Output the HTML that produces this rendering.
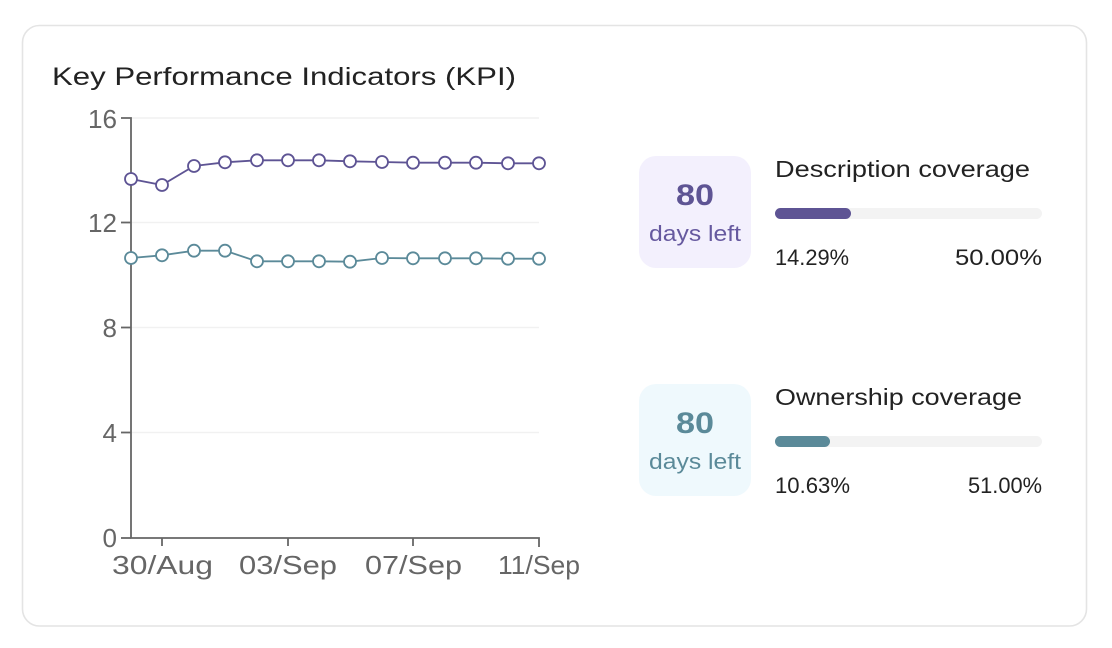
<!DOCTYPE html>
<html><head><meta charset="utf-8"><style>
html,body{margin:0;padding:0;background:#fff;}
svg{display:block;}
text{font-family:"Liberation Sans",sans-serif;}
</style></head><body>
<svg width="1112" height="648" viewBox="0 0 1112 648" xmlns="http://www.w3.org/2000/svg">
<rect x="0" y="0" width="1112" height="648" fill="#fff"/>
<rect x="22.5" y="25.5" width="1064" height="600.5" rx="17" ry="17" fill="#fff" stroke="#e4e4e4" stroke-width="1.6"/>
<text x="52" y="85" font-size="25" fill="#222" textLength="464" lengthAdjust="spacingAndGlyphs">Key Performance Indicators (KPI)</text>

<!-- grid -->
<g stroke="#f1f1f1" stroke-width="1.5">
<line x1="131" y1="118" x2="539" y2="118"/>
<line x1="131" y1="222.5" x2="539" y2="222.5"/>
<line x1="131" y1="327.5" x2="539" y2="327.5"/>
<line x1="131" y1="432.5" x2="539" y2="432.5"/>
</g>
<!-- axes -->
<g stroke="#666" stroke-width="1.8" fill="none">
<path d="M121 118 H131 V538 H539 V547"/>
<line x1="121" y1="222.5" x2="131" y2="222.5"/>
<line x1="121" y1="327.5" x2="131" y2="327.5"/>
<line x1="121" y1="432.5" x2="131" y2="432.5"/>
<line x1="121" y1="538" x2="131" y2="538"/>
<line x1="162" y1="538" x2="162" y2="546"/>
<line x1="288" y1="538" x2="288" y2="546"/>
<line x1="413" y1="538" x2="413" y2="546"/>
</g>
<g font-size="26" fill="#666" text-anchor="end">
<text x="117" y="128" textLength="29" lengthAdjust="spacingAndGlyphs">16</text>
<text x="117" y="232" textLength="29" lengthAdjust="spacingAndGlyphs">12</text>
<text x="117" y="337">8</text>
<text x="117" y="442">4</text>
<text x="117" y="547">0</text>
</g>
<g font-size="26" fill="#666">
<text x="112" y="574" textLength="101" lengthAdjust="spacingAndGlyphs">30/Aug</text>
<text x="239" y="574" textLength="98" lengthAdjust="spacingAndGlyphs">03/Sep</text>
<text x="365" y="574" textLength="97" lengthAdjust="spacingAndGlyphs">07/Sep</text>
<text x="498" y="574" textLength="82" lengthAdjust="spacingAndGlyphs">11/Sep</text>
</g>

<!-- purple series -->
<polyline fill="none" stroke="#5e5494" stroke-width="1.8" points="131,179 162,185 194,166 225,162.3 257,160.3 288,160.3 319,160.3 350,161.3 382,162 413,162.7 445,162.7 476,162.7 508,163.3 539,163.3"/>
<g fill="#fff" stroke="#5e5494" stroke-width="1.8">
<circle cx="131" cy="179" r="6"/><circle cx="162" cy="185" r="6"/><circle cx="194" cy="166" r="6"/><circle cx="225" cy="162.3" r="6"/><circle cx="257" cy="160.3" r="6"/><circle cx="288" cy="160.3" r="6"/><circle cx="319" cy="160.3" r="6"/><circle cx="350" cy="161.3" r="6"/><circle cx="382" cy="162" r="6"/><circle cx="413" cy="162.7" r="6"/><circle cx="445" cy="162.7" r="6"/><circle cx="476" cy="162.7" r="6"/><circle cx="508" cy="163.3" r="6"/><circle cx="539" cy="163.3" r="6"/>
</g>
<!-- teal series -->
<polyline fill="none" stroke="#5b8a99" stroke-width="1.8" points="131,258 162,255.3 194,250.7 225,250.7 257,261.3 288,261.3 319,261.3 350,261.7 382,258 413,258.3 445,258.3 476,258.3 508,258.7 539,258.7"/>
<g fill="#fff" stroke="#5b8a99" stroke-width="1.8">
<circle cx="131" cy="258" r="6"/><circle cx="162" cy="255.3" r="6"/><circle cx="194" cy="250.7" r="6"/><circle cx="225" cy="250.7" r="6"/><circle cx="257" cy="261.3" r="6"/><circle cx="288" cy="261.3" r="6"/><circle cx="319" cy="261.3" r="6"/><circle cx="350" cy="261.7" r="6"/><circle cx="382" cy="258" r="6"/><circle cx="413" cy="258.3" r="6"/><circle cx="445" cy="258.3" r="6"/><circle cx="476" cy="258.3" r="6"/><circle cx="508" cy="258.7" r="6"/><circle cx="539" cy="258.7" r="6"/>
</g>

<!-- KPI 1 -->
<rect x="639" y="156" width="112" height="112" rx="17" fill="#f3f0fd"/>
<text x="695" y="205" font-size="30" font-weight="bold" fill="#5e5494" text-anchor="middle" textLength="38" lengthAdjust="spacingAndGlyphs">80</text>
<text x="695" y="241" font-size="22" fill="#66599f" text-anchor="middle" textLength="92" lengthAdjust="spacingAndGlyphs">days left</text>
<text x="775" y="177" font-size="23.5" fill="#222" textLength="255" lengthAdjust="spacingAndGlyphs">Description coverage</text>
<rect x="775" y="208" width="267" height="11" rx="5.5" fill="#f3f3f3"/>
<rect x="775" y="208" width="76" height="11" rx="5.5" fill="#5e5494"/>
<text x="775" y="265" font-size="22.5" fill="#222" textLength="74" lengthAdjust="spacingAndGlyphs">14.29%</text>
<text x="1042" y="265" font-size="22.5" fill="#222" text-anchor="end" textLength="87" lengthAdjust="spacingAndGlyphs">50.00%</text>

<!-- KPI 2 -->
<rect x="639" y="384" width="112" height="112" rx="17" fill="#eff9fd"/>
<text x="695" y="433" font-size="30" font-weight="bold" fill="#5b8a99" text-anchor="middle" textLength="38" lengthAdjust="spacingAndGlyphs">80</text>
<text x="695" y="469" font-size="22" fill="#5b8a99" text-anchor="middle" textLength="92" lengthAdjust="spacingAndGlyphs">days left</text>
<text x="775" y="405" font-size="23.5" fill="#222" textLength="247" lengthAdjust="spacingAndGlyphs">Ownership coverage</text>
<rect x="775" y="436" width="267" height="11" rx="5.5" fill="#f3f3f3"/>
<rect x="775" y="436" width="55" height="11" rx="5.5" fill="#5b8a99"/>
<text x="775" y="493" font-size="22.5" fill="#222" textLength="75" lengthAdjust="spacingAndGlyphs">10.63%</text>
<text x="1042" y="493" font-size="22.5" fill="#222" text-anchor="end" textLength="74" lengthAdjust="spacingAndGlyphs">51.00%</text>
</svg>
</body></html>
